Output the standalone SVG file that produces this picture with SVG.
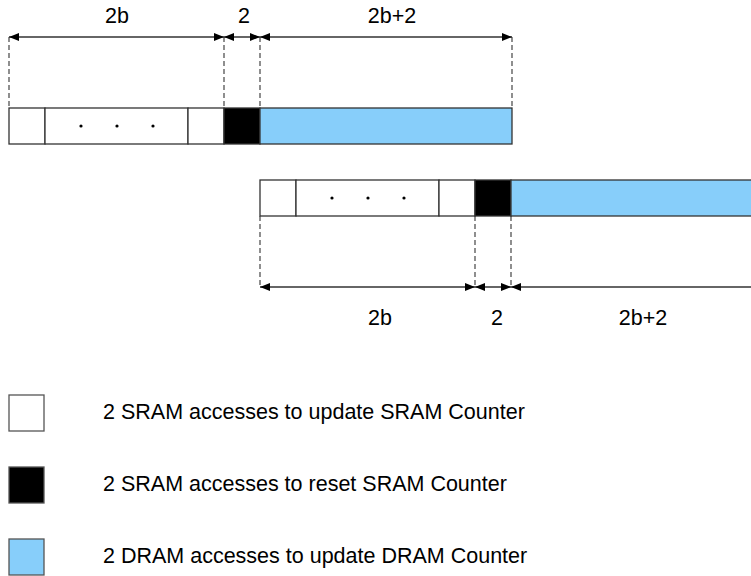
<svg xmlns="http://www.w3.org/2000/svg" width="751" height="576" viewBox="0 0 751 576">
  <style>
    .cell { stroke: #333; stroke-width: 1.3; }
    .key { stroke: #555; stroke-width: 1.3; }
    .white { fill: #ffffff; }
    .black { fill: #000000; }
    .blue { fill: #87cefa; }
    .dim { stroke: #333; stroke-width: 1.3; fill: none; }
    .guide { stroke: #333; stroke-width: 1.1; stroke-dasharray: 5 3; fill: none; }
    .dot { fill: #000; }
    text { font-family: "Liberation Sans", Arial, sans-serif; font-size: 21.5px; fill: #000; }
    .lbl { text-anchor: middle; }
  </style>
  <defs>
    <marker id="arr" viewBox="0 0 10 10" refX="10" refY="5" markerWidth="10" markerHeight="10" markerUnits="userSpaceOnUse" orient="auto-start-reverse">
      <path d="M0,1 L10,5 L0,9 z" fill="#000"/>
    </marker>
  </defs>

  <!-- upper counter row -->
  <g id="row-top">
    <rect class="cell white" x="9" y="108" width="36" height="36"/>
    <rect class="cell white" x="45" y="108" width="143" height="36"/>
    <rect class="cell white" x="188" y="108" width="36" height="36"/>
    <rect class="cell black" x="224" y="108" width="36" height="36"/>
    <rect class="cell blue" x="260" y="108" width="252" height="36"/>
    <circle class="dot" cx="81" cy="126" r="1.6"/>
    <circle class="dot" cx="117" cy="126" r="1.6"/>
    <circle class="dot" cx="153" cy="126" r="1.6"/>
  </g>

  <!-- lower counter row -->
  <g id="row-bottom">
    <rect class="cell white" x="260" y="180" width="36" height="36"/>
    <rect class="cell white" x="296" y="180" width="143" height="36"/>
    <rect class="cell white" x="439" y="180" width="36" height="36"/>
    <rect class="cell black" x="475" y="180" width="36" height="36"/>
    <rect class="cell blue" x="511" y="180" width="252" height="36"/>
    <circle class="dot" cx="332" cy="198" r="1.6"/>
    <circle class="dot" cx="368" cy="198" r="1.6"/>
    <circle class="dot" cx="404" cy="198" r="1.6"/>
  </g>

  <!-- dimension lines -->
  <g id="connectors">
    <path class="guide" d="M9,37 V108 M224,37 V108 M260,37 V108 M512,37 V108"/>
    <line class="dim" x1="9" y1="37" x2="224" y2="37" marker-start="url(#arr)" marker-end="url(#arr)"/>
    <line class="dim" x1="224" y1="37" x2="260" y2="37" marker-start="url(#arr)" marker-end="url(#arr)"/>
    <line class="dim" x1="260" y1="37" x2="512" y2="37" marker-start="url(#arr)" marker-end="url(#arr)"/>

    <path class="guide" d="M260,216 V287 M475,216 V287 M511,216 V287"/>
    <line class="dim" x1="260" y1="287" x2="475" y2="287" marker-start="url(#arr)" marker-end="url(#arr)"/>
    <line class="dim" x1="475" y1="287" x2="511" y2="287" marker-start="url(#arr)" marker-end="url(#arr)"/>
    <line class="dim" x1="511" y1="287" x2="763" y2="287" marker-start="url(#arr)" marker-end="url(#arr)"/>
  </g>

  <!-- dimension labels -->
  <g id="labels">
    <text class="lbl" x="117" y="23">2b</text>
    <text class="lbl" x="244" y="23">2</text>
    <text class="lbl" x="392" y="23">2b+2</text>
    <text class="lbl" x="380" y="325">2b</text>
    <text class="lbl" x="497" y="325">2</text>
    <text class="lbl" x="643" y="325">2b+2</text>
  </g>

  <!-- legend -->
  <g id="legend-update-sram">
    <rect class="key white" x="9" y="395" width="35" height="36"/>
    <text x="103" y="419">2 SRAM accesses to update SRAM Counter</text>
  </g>
  <g id="legend-reset-sram">
    <rect class="key black" x="9" y="467" width="35" height="36"/>
    <text x="103" y="491">2 SRAM accesses to reset SRAM Counter</text>
  </g>
  <g id="legend-update-dram">
    <rect class="key blue" x="9" y="539" width="35" height="36"/>
    <text x="103" y="563">2 DRAM accesses to update DRAM Counter</text>
  </g>
</svg>
